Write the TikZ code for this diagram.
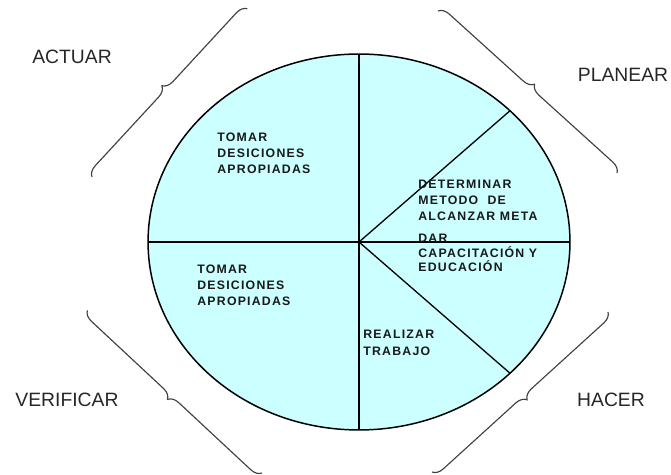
\documentclass[tikz,border=0pt]{standalone}
\usepackage{fontspec}
\setmainfont{Liberation Sans}
\usepackage{xcolor}
\usetikzlibrary{positioning,shapes.geometric,decorations.pathreplacing}
\definecolor{celeste}{HTML}{CCFFFF}

\begin{document}
\begin{tikzpicture}[
    x=0.02cm,y=-0.02cm,
    fase/.style={font=\fontsize{11}{13}\selectfont,text=black!85,inner sep=0pt},
    tarea/.style={anchor=north west,align=left,inner sep=0pt,text=black!90,
      font=\fontsize{7}{9}\selectfont\bfseries\addfontfeatures{LetterSpace=10}},
    llave/.style={decorate,decoration={brace,amplitude=6pt},
      draw=black!75,line width=0.65pt},
    division/.style={draw=black,line width=0.75pt}
]
\useasboundingbox (0,0) rectangle (671,475);

% circulo de Deming
\node[ellipse,draw=black,fill=celeste,line width=0.85pt,inner sep=0pt,
  outer sep=0pt,minimum width=8.44cm,minimum height=7.52cm]
  (ciclo) at (359,242) {};
\draw[division] (ciclo.north) -- (ciclo.south);
\draw[division] (ciclo.west) -- (ciclo.east);
\draw[division] (ciclo.center) -- (ciclo.41.7);
\draw[division] (ciclo.center) -- (ciclo.-41.7);

% tareas
\node[tarea] (actuar1) at (217,133) {TOMAR\\DESICIONES\\APROPIADAS};
\node[tarea] (verificar1) at (197,265) {TOMAR\\DESICIONES\\APROPIADAS};
\node[tarea] (planear1) at (418,180) {DETERMINAR\\METODO~ DE\\ALCANZAR META};
\node[tarea,font=\fontsize{7}{8.3}\selectfont\bfseries\addfontfeatures{LetterSpace=10}]
  (planear2) at (418,234) {DAR\\CAPACITACIÓN Y\\EDUCACIÓN};
\node[tarea,font=\fontsize{7}{9.6}\selectfont\bfseries\addfontfeatures{LetterSpace=10}]
  (hacer1) at (363,330) {REALIZAR\\TRABAJO};

% fases
\node[fase] (actuar) at (72,57) {ACTUAR};
\node[fase] (planear) at (623,75) {PLANEAR};
\node[fase] (verificar) at (67,400) {VERIFICAR};
\node[fase] (hacer) at (611,400) {HACER};

% llaves
\coordinate (actuarA) at (92,177);
\coordinate (actuarB) at (248,8);
\coordinate (planearA) at (438,11);
\coordinate (planearB) at (617,173);
\coordinate (verificarA) at (262,473);
\coordinate (verificarB) at (87,310);
\coordinate (hacerA) at (608,312);
\coordinate (hacerB) at (432,472);
\draw[llave] (actuarA) -- (actuarB);
\draw[llave] (planearA) -- (planearB);
\draw[llave] (verificarA) -- (verificarB);
\draw[llave] (hacerA) -- (hacerB);
\end{tikzpicture}
\end{document}
